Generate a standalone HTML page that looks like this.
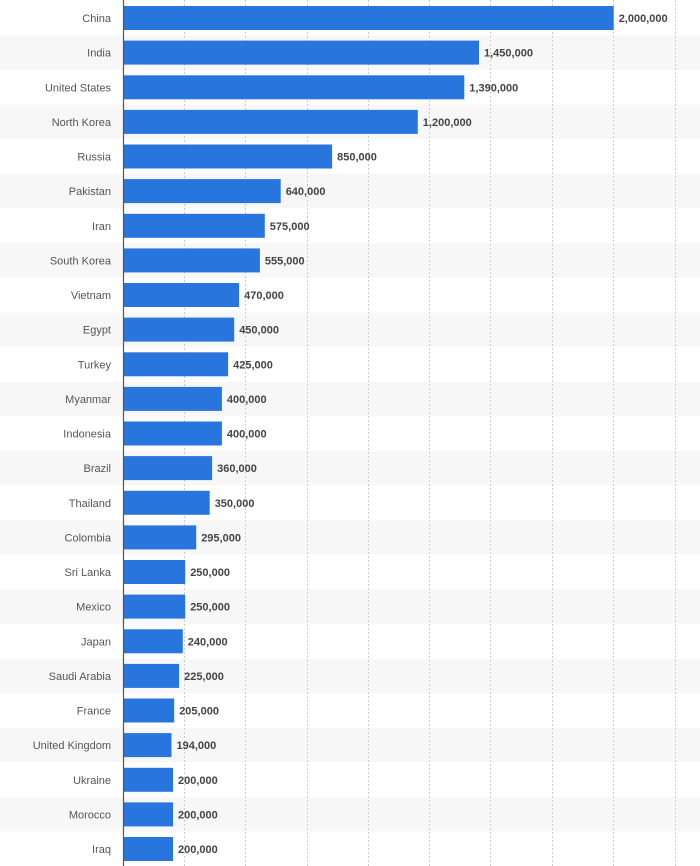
<!DOCTYPE html>
<html><head><meta charset="utf-8"><style>
html,body{margin:0;padding:0;background:#fff;}
svg{display:block;font-family:"Liberation Sans",sans-serif;}
.c{font-size:11px;fill:#555;text-anchor:end;}
.v{font-size:11px;fill:#444;font-weight:bold;}
.b{fill:#2876dd;}
.g{fill:#f7f7f7;}
.gl{stroke:#ccc;stroke-dasharray:2,2;stroke-width:1;}
</style></head><body>
<svg width="700" height="866" xmlns="http://www.w3.org/2000/svg">
<g>
<rect class="g" x="0" y="35.3" width="700" height="34.6"/>
<rect class="g" x="0" y="104.6" width="700" height="34.6"/>
<rect class="g" x="0" y="173.8" width="700" height="34.6"/>
<rect class="g" x="0" y="243.1" width="700" height="34.6"/>
<rect class="g" x="0" y="312.3" width="700" height="34.6"/>
<rect class="g" x="0" y="381.6" width="700" height="34.6"/>
<rect class="g" x="0" y="450.8" width="700" height="34.6"/>
<rect class="g" x="0" y="520.1" width="700" height="34.6"/>
<rect class="g" x="0" y="589.3" width="700" height="34.6"/>
<rect class="g" x="0" y="658.6" width="700" height="34.6"/>
<rect class="g" x="0" y="727.8" width="700" height="34.6"/>
<rect class="g" x="0" y="797.1" width="700" height="34.6"/>
</g>
<g>
<line class="gl" x1="184.5" y1="0" x2="184.5" y2="866"/>
<line class="gl" x1="245.5" y1="0" x2="245.5" y2="866"/>
<line class="gl" x1="307.5" y1="0" x2="307.5" y2="866"/>
<line class="gl" x1="368.5" y1="0" x2="368.5" y2="866"/>
<line class="gl" x1="429.5" y1="0" x2="429.5" y2="866"/>
<line class="gl" x1="490.5" y1="0" x2="490.5" y2="866"/>
<line class="gl" x1="552.5" y1="0" x2="552.5" y2="866"/>
<line class="gl" x1="613.5" y1="0" x2="613.5" y2="866"/>
<line class="gl" x1="675.5" y1="0" x2="675.5" y2="866"/>
</g>
<g>
<rect class="b" x="124" y="6" width="489.7" height="24"/>
<rect class="b" x="124" y="40.6" width="355" height="24"/>
<rect class="b" x="124" y="75.3" width="340.3" height="24"/>
<rect class="b" x="124" y="109.9" width="293.8" height="24"/>
<rect class="b" x="124" y="144.5" width="208.1" height="24"/>
<rect class="b" x="124" y="179.1" width="156.7" height="24"/>
<rect class="b" x="124" y="213.8" width="140.8" height="24"/>
<rect class="b" x="124" y="248.4" width="135.9" height="24"/>
<rect class="b" x="124" y="283" width="115.1" height="24"/>
<rect class="b" x="124" y="317.6" width="110.2" height="24"/>
<rect class="b" x="124" y="352.3" width="104.1" height="24"/>
<rect class="b" x="124" y="386.9" width="97.9" height="24"/>
<rect class="b" x="124" y="421.5" width="97.9" height="24"/>
<rect class="b" x="124" y="456.1" width="88.1" height="24"/>
<rect class="b" x="124" y="490.8" width="85.7" height="24"/>
<rect class="b" x="124" y="525.4" width="72.2" height="24"/>
<rect class="b" x="124" y="560" width="61.2" height="24"/>
<rect class="b" x="124" y="594.6" width="61.2" height="24"/>
<rect class="b" x="124" y="629.3" width="58.8" height="24"/>
<rect class="b" x="124" y="663.9" width="55.1" height="24"/>
<rect class="b" x="124" y="698.5" width="50.2" height="24"/>
<rect class="b" x="124" y="733.1" width="47.5" height="24"/>
<rect class="b" x="124" y="767.8" width="49" height="24"/>
<rect class="b" x="124" y="802.4" width="49" height="24"/>
<rect class="b" x="124" y="837" width="49" height="24"/>
</g>
<line x1="123.5" y1="0" x2="123.5" y2="866" stroke="#555" stroke-width="1.2"/>
<g class="c">
<text x="111" y="22">China</text>
<text x="111" y="56.6">India</text>
<text x="111" y="91.3">United States</text>
<text x="111" y="125.9">North Korea</text>
<text x="111" y="160.5">Russia</text>
<text x="111" y="195.1">Pakistan</text>
<text x="111" y="229.8">Iran</text>
<text x="111" y="264.4">South Korea</text>
<text x="111" y="299">Vietnam</text>
<text x="111" y="333.6">Egypt</text>
<text x="111" y="368.3">Turkey</text>
<text x="111" y="402.9">Myanmar</text>
<text x="111" y="437.5">Indonesia</text>
<text x="111" y="472.1">Brazil</text>
<text x="111" y="506.8">Thailand</text>
<text x="111" y="541.4">Colombia</text>
<text x="111" y="576">Sri Lanka</text>
<text x="111" y="610.6">Mexico</text>
<text x="111" y="645.3">Japan</text>
<text x="111" y="679.9">Saudi Arabia</text>
<text x="111" y="714.5">France</text>
<text x="111" y="749.1">United Kingdom</text>
<text x="111" y="783.8">Ukraine</text>
<text x="111" y="818.4">Morocco</text>
<text x="111" y="853">Iraq</text>
</g>
<g class="v">
<text x="618.7" y="22">2,000,000</text>
<text x="484" y="56.6">1,450,000</text>
<text x="469.3" y="91.3">1,390,000</text>
<text x="422.8" y="125.9">1,200,000</text>
<text x="337.1" y="160.5">850,000</text>
<text x="285.7" y="195.1">640,000</text>
<text x="269.8" y="229.8">575,000</text>
<text x="264.9" y="264.4">555,000</text>
<text x="244.1" y="299">470,000</text>
<text x="239.2" y="333.6">450,000</text>
<text x="233.1" y="368.3">425,000</text>
<text x="226.9" y="402.9">400,000</text>
<text x="226.9" y="437.5">400,000</text>
<text x="217.1" y="472.1">360,000</text>
<text x="214.7" y="506.8">350,000</text>
<text x="201.2" y="541.4">295,000</text>
<text x="190.2" y="576">250,000</text>
<text x="190.2" y="610.6">250,000</text>
<text x="187.8" y="645.3">240,000</text>
<text x="184.1" y="679.9">225,000</text>
<text x="179.2" y="714.5">205,000</text>
<text x="176.5" y="749.1">194,000</text>
<text x="178" y="783.8">200,000</text>
<text x="178" y="818.4">200,000</text>
<text x="178" y="853">200,000</text>
</g>
</svg>
</body></html>
